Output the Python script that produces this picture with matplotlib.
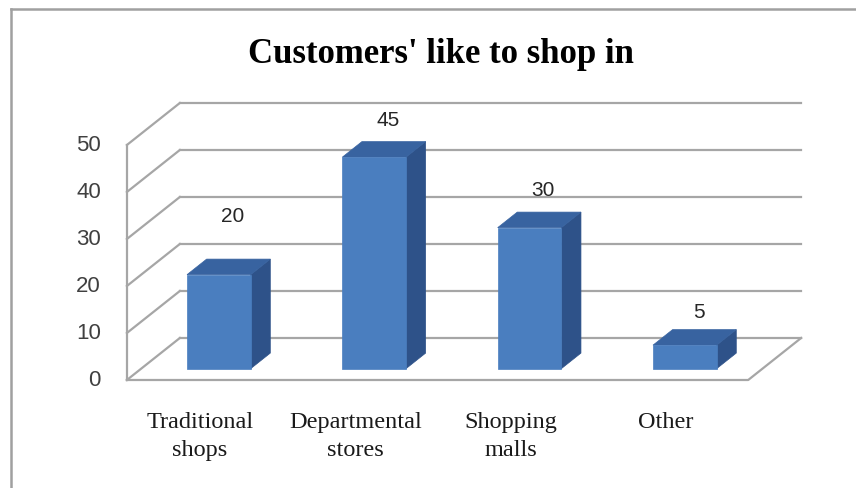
import matplotlib.pyplot as plt
from matplotlib.patches import Polygon
from matplotlib.lines import Line2D

# chart data
categories = ['Traditional\nshops', 'Departmental\nstores', 'Shopping\nmalls', 'Other']
values = [20, 45, 30, 5]
y_ticks = [0, 10, 20, 30, 40, 50]
title = "Customers' like to shop in"

# pseudo-3D projection (depth offset in data units)
DX = 0.341      # category units for full depth
DY = 8.94       # value units for full depth
T_FRONT, T_BACK = 0.27, 0.64
BAR_W = 0.41
Y_MAX = 50
LABEL_LIFT = [15.0, 10.5, 10.5, 9.6]

FRONT = '#4A7EBF'
SIDE = '#2E5289'
TOP = '#3863A0'
GRID = '#A6A6A6'

fig = plt.figure(figsize=(8.56, 4.89), dpi=100)
ax = fig.add_axes([0, 0, 1, 1])
ax.set_xlim(-1.317, 4.194)
ax.set_ylim(-22.98, 81.06)
ax.axis('off')

x_left, x_right = -0.5, len(categories) - 0.5

# back wall gridlines + left side wall diagonals
for t in y_ticks:
    ax.plot([x_left + DX, x_right + DX], [t + DY, t + DY], color=GRID, lw=1.6, zorder=1)
    ax.plot([x_left, x_left + DX], [t, t + DY], color=GRID, lw=1.6, zorder=1)
# front axis line
ax.plot([x_left, x_left], [0, Y_MAX], color=GRID, lw=1.6, zorder=1)
# floor
ax.plot([x_left, x_right, x_right + DX], [0, 0, DY], color=GRID, lw=1.6, zorder=1)

# bars
ddx = (T_BACK - T_FRONT) * DX
ddy = (T_BACK - T_FRONT) * DY
for i, v in enumerate(values):
    x0 = i - BAR_W / 2 + T_FRONT * DX
    x1 = i + BAR_W / 2 + T_FRONT * DX
    y0 = T_FRONT * DY
    y1 = y0 + v
    side = Polygon([(x1, y0), (x1, y1), (x1 + ddx, y1 + ddy), (x1 + ddx, y0 + ddy)],
                   closed=True, facecolor=SIDE, edgecolor=SIDE, lw=0.5, zorder=3)
    top = Polygon([(x0, y1), (x1, y1), (x1 + ddx, y1 + ddy), (x0 + ddx, y1 + ddy)],
                  closed=True, facecolor=TOP, edgecolor=TOP, lw=0.5, zorder=3)
    front = Polygon([(x0, y0), (x1, y0), (x1, y1), (x0, y1)],
                    closed=True, facecolor=FRONT, edgecolor=FRONT, lw=0.5, zorder=4)
    for p in (side, top, front):
        ax.add_patch(p)
    ax.text(i + 0.18, v + LABEL_LIFT[i], str(v), ha='center', va='center',
            fontsize=15, color='#262626', family=['Liberation Sans Narrow', 'Liberation Sans'],
            zorder=5)

# y tick labels
for t in y_ticks:
    ax.text(x_left - 0.167, t, str(t), ha='right', va='center', fontsize=16,
            color='#404040', family=['Liberation Sans Narrow', 'Liberation Sans'])

# category labels
for i, c in enumerate(categories):
    ax.text(i - 0.03, -6.5, c, ha='center', va='top', fontsize=17.5,
            family='Liberation Serif', color='#1A1A1A', linespacing=1.45)

fig.text(0.515, 0.889, title, ha='center', va='center', fontsize=25,
         fontweight='bold', family='Liberation Serif', color='black')

# outer frame (top and left only)
fig.add_artist(Line2D([11 / 856, 11 / 856], [0, 1 - 10 / 489], color='#A0A0A0', lw=1.8,
                      transform=fig.transFigure))
fig.add_artist(Line2D([11 / 856, 1], [1 - 10 / 489, 1 - 10 / 489], color='#A0A0A0', lw=1.8,
                      transform=fig.transFigure))

fig.savefig('out.png', dpi=100)
